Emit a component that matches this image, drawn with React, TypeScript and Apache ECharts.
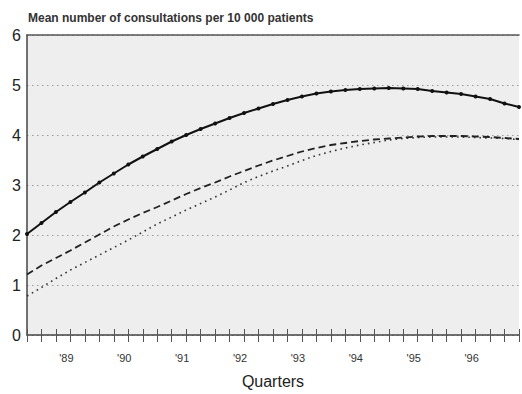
import React, { useEffect, useRef } from "react";
import * as echarts from "echarts";

// Quarter index 0 = 2nd quarter 1988 ... 34
const yearLabels = ["'89", "'90", "'91", "'92", "'93", "'94", "'95", "'96"];
const firstYearQuarterIndex = 3;

const solidValues = [
  2.02, 2.24, 2.46, 2.66, 2.85, 3.05, 3.23, 3.41, 3.57, 3.72,
  3.87, 4.0, 4.12, 4.23, 4.34, 4.44, 4.53, 4.62, 4.7, 4.77,
  4.83, 4.87, 4.9, 4.92, 4.93, 4.94, 4.93, 4.92, 4.88, 4.85,
  4.82, 4.77, 4.72, 4.63, 4.56,
];

const dashedValues = [
  1.21, 1.39, 1.54, 1.69, 1.85, 2.01, 2.17, 2.31, 2.44, 2.56,
  2.69, 2.82, 2.94, 3.05, 3.17, 3.28, 3.39, 3.49, 3.58, 3.67,
  3.74, 3.8, 3.84, 3.88, 3.91, 3.93, 3.95, 3.97, 3.98, 3.98,
  3.98, 3.97, 3.96, 3.94, 3.92,
];

const dottedValues = [
  0.78, 0.95, 1.13, 1.3, 1.45, 1.6, 1.75, 1.9, 2.06, 2.22,
  2.36, 2.5, 2.63, 2.76, 2.9, 3.05, 3.17, 3.28, 3.38, 3.49,
  3.59, 3.67, 3.74, 3.8, 3.85, 3.9, 3.93, 3.95, 3.96, 3.96,
  3.96, 3.95, 3.94, 3.93, 3.91,
];

const yTicks = [0, 1, 2, 3, 4, 5, 6];
const titleText = "Mean number of consultations per 10 000 patients";
const xAxisTitle = "Quarters";

const FONT = "'Liberation Sans', Arial, sans-serif";

export default function App() {
  const ref = useRef<HTMLDivElement>(null);

  useEffect(() => {
    if (!ref.current) return;
    const chart = echarts.init(ref.current, null, { renderer: "svg" });
    const toPairs = (arr: number[]) => arr.map((v, i) => [i, v]);
    const nQ = solidValues.length - 1;

    const baseX = {
      type: "value" as const,
      min: 0,
      max: nQ,
      interval: 1,
      gridIndex: 0,
    };

    chart.setOption({
      animation: false,
      backgroundColor: "#ffffff",
      title: {
        text: titleText,
        left: 28,
        top: 12,
        padding: 0,
        textStyle: {
          fontFamily: FONT,
          fontSize: 12,
          fontWeight: "bold",
          color: "#333",
        },
      },
      grid: {
        left: 27,
        right: 0,
        top: 35,
        bottom: 54,
        show: true,
        backgroundColor: "#eeeeee",
        borderWidth: 0,
      },
      xAxis: [
        {
          ...baseX,
          position: "bottom",
          name: xAxisTitle,
          nameLocation: "middle",
          nameGap: 38,
          nameTextStyle: { fontFamily: FONT, fontSize: 16, color: "#222" },
          axisLine: { show: true, lineStyle: { color: "#444", width: 1.5 } },
          axisTick: { show: true, length: 7, lineStyle: { color: "#555", width: 1 } },
          splitLine: { show: false },
          axisLabel: {
            show: true,
            margin: 17,
            fontFamily: FONT,
            fontSize: 11,
            color: "#333",
            padding: [0, 8, 0, 0],
            formatter: (v: number) => {
              const k = v - firstYearQuarterIndex;
              if (k >= 0 && k % 4 === 0) {
                const idx = k / 4;
                return yearLabels[idx] ?? "";
              }
              return "";
            },
          },
        },
        {
          ...baseX,
          position: "bottom",
          axisLine: { show: false },
          axisTick: { show: true, inside: true, length: 6, lineStyle: { color: "#555", width: 1 } },
          axisLabel: { show: false },
          splitLine: { show: false },
        },
        {
          ...baseX,
          position: "top",
          axisLine: { show: true, lineStyle: { color: "#555", width: 1.5 } },
          axisTick: { show: false },
          axisLabel: { show: false },
          splitLine: { show: false },
        },
      ],
      yAxis: {
        type: "value",
        min: yTicks[0],
        max: yTicks[yTicks.length - 1],
        interval: 1,
        axisLine: { show: true, lineStyle: { color: "#444", width: 1.5 } },
        axisTick: { show: false },
        axisLabel: {
          margin: 6,
          fontFamily: FONT,
          fontSize: 16,
          color: "#222",
        },
        splitLine: {
          show: true,
          lineStyle: { color: "#9a9a9a", width: 1, type: [1.5, 3.5] },
        },
      },
      series: [
        {
          type: "line",
          data: toPairs(dottedValues),
          showSymbol: false,
          symbol: "none",
          lineStyle: { color: "#333", width: 1.6, type: [1.6, 4] },
          z: 3,
        },
        {
          type: "line",
          data: toPairs(dashedValues),
          showSymbol: false,
          symbol: "none",
          lineStyle: { color: "#222", width: 1.8, type: [7, 4] },
          z: 4,
        },
        {
          type: "line",
          data: toPairs(solidValues),
          symbol: "circle",
          symbolSize: 4,
          itemStyle: { color: "#111" },
          lineStyle: { color: "#111", width: 2 },
          z: 5,
        },
      ],
    });
    return () => chart.dispose();
  }, []);

  return (
    <div
      ref={ref}
      style={{ position: "fixed", left: 0, top: 0, width: 522, height: 394 }}
    />
  );
}
